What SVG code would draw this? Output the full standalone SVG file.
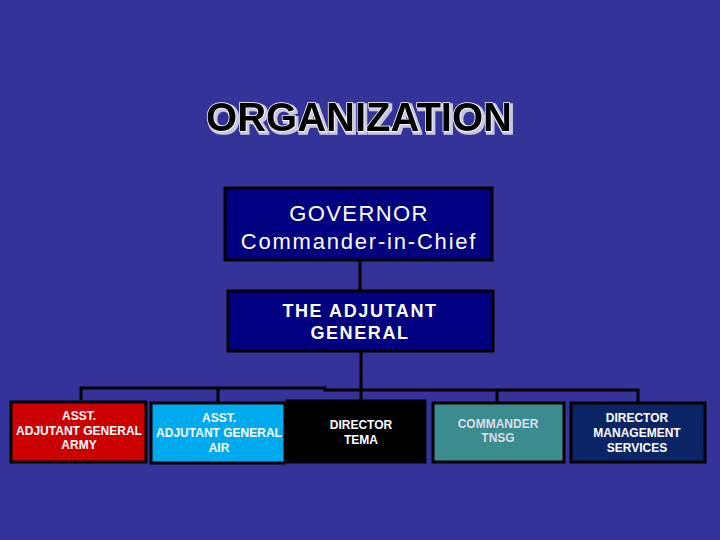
<svg xmlns="http://www.w3.org/2000/svg" width="720" height="540" viewBox="0 0 720 540">
<style>
.box{stroke:#000;stroke-width:3}
.t{font-family:"Liberation Sans",Arial,sans-serif;fill:#fff;text-anchor:middle}
.sm{font-size:12px;font-weight:bold}
.ln{stroke:#000;stroke-width:3;fill:none}
</style>
<defs>
<filter id="sh" x="-5%" y="-20%" width="110%" height="140%">
<feMorphology in="SourceAlpha" operator="dilate" radius="0.5" result="d"/>
<feOffset in="d" dx="2" dy="2" result="o"/>
<feFlood flood-color="#c8c8e0"/>
<feComposite in2="o" operator="in" result="s"/>
<feMerge><feMergeNode in="s"/><feMergeNode in="SourceGraphic"/></feMerge>
</filter>
</defs>
<rect width="720" height="540" fill="#333399"/>
<g id="title">
<text x="359" y="131" class="t" filter="url(#sh)" style="font-size:40px;font-weight:bold;fill:#000;stroke:#fff;stroke-width:1.5;paint-order:stroke">ORGANIZATION</text>
</g>
<g id="connectors">
<line x1="360" y1="260" x2="360" y2="290" class="ln"/>
<line x1="361" y1="351" x2="361" y2="402" class="ln"/>
<polyline points="81,400 81,388 325,388 325,390 361,390" class="ln"/>
<line x1="218" y1="388" x2="218" y2="402" class="ln"/>
<polyline points="361,390 638,390 638,402" class="ln"/>
<line x1="497" y1="390" x2="497" y2="402" class="ln"/>
</g>
<g id="governor">
<rect x="225" y="188" width="267" height="72" fill="#000080" class="box"/>
<text x="359" y="221" class="t" style="font-size:22px;letter-spacing:1.4px">GOVERNOR</text>
<text x="359" y="249" class="t" style="font-size:22px;letter-spacing:1.8px">Commander-in-Chief</text>
</g>
<g id="tag">
<rect x="228" y="291" width="265" height="60" fill="#000080" class="box"/>
<text x="360" y="317" class="t" style="font-size:18px;font-weight:bold;letter-spacing:1.6px">THE ADJUTANT</text>
<text x="360" y="339" class="t" style="font-size:18px;font-weight:bold;letter-spacing:1.6px">GENERAL</text>
</g>
<g id="army">
<rect x="11" y="402" width="135" height="60" fill="#cc0000" class="box"/>
<text x="79" y="420" class="t sm">ASST.</text>
<text x="79" y="435" class="t sm">ADJUTANT GENERAL</text>
<text x="79" y="449" class="t sm">ARMY</text>
</g>
<g id="air">
<rect x="151" y="403" width="134" height="60" fill="#00aaee" class="box"/>
<text x="219" y="422" class="t sm">ASST.</text>
<text x="219" y="437" class="t sm">ADJUTANT GENERAL</text>
<text x="219" y="452" class="t sm">AIR</text>
</g>
<g id="tema">
<rect x="287" y="401" width="138" height="61" fill="#000" class="box"/>
<text x="361" y="429" class="t sm">DIRECTOR</text>
<text x="361" y="444" class="t sm">TEMA</text>
</g>
<g id="tnsg">
<rect x="433" y="403" width="131" height="59" fill="#3a8c8f" class="box"/>
<text x="498" y="428" class="t sm" style="fill:#dde">COMMANDER</text>
<text x="498" y="442" class="t sm" style="fill:#dde">TNSG</text>
</g>
<g id="dms">
<rect x="571" y="403" width="134" height="59" fill="#0a2466" class="box"/>
<text x="637" y="422" class="t sm">DIRECTOR</text>
<text x="637" y="437" class="t sm">MANAGEMENT</text>
<text x="637" y="452" class="t sm">SERVICES</text>
</g>
</svg>
